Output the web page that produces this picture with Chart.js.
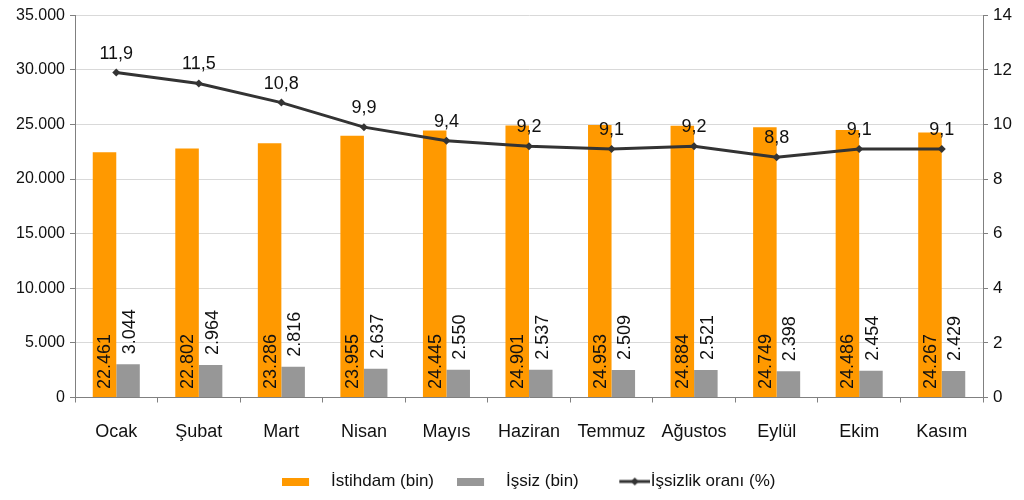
<!DOCTYPE html>
<html>
<head>
<meta charset="utf-8">
<script src="https://cdn.jsdelivr.net/npm/chart.js@4/dist/chart.umd.min.js"></script>
<style>
html,body{margin:0;padding:0;background:#fff;}
#wrap{width:1024px;height:500px;position:relative;}
</style>
</head>
<body>
<div id="wrap"><canvas id="c" width="1024" height="500"></canvas></div>
<script>
const categories = ["Ocak","Şubat","Mart","Nisan","Mayıs","Haziran","Temmuz","Ağustos","Eylül","Ekim","Kasım"];
const istihdam = [22461,22802,23286,23955,24445,24901,24953,24884,24749,24486,24267];
const issiz = [3044,2964,2816,2637,2550,2537,2509,2521,2398,2454,2429];
const oran = [11.9,11.5,10.8,9.9,9.4,9.2,9.1,9.2,8.8,9.1,9.1];
const seriesNames = ["İstihdam (bin)","İşsiz (bin)","İşsizlik oranı (%)"];

const ORANGE = "#FF9900", GRAY = "#979797", LINE = "#333333";
const FONT = "'Liberation Sans', Arial, sans-serif";

function fmtThousand(v){
  const s = Math.round(v).toString();
  return s.replace(/\B(?=(\d{3})+(?!\d))/g, ".");
}
function fmtDec(v){ return v.toFixed(1).replace(".", ","); }

function legendIcon(kind){
  const c = document.createElement("canvas");
  if (kind === "line") {
    c.width = 56; c.height = 10;
    const x = c.getContext("2d");
    x.strokeStyle = LINE; x.lineWidth = 3;
    x.beginPath(); x.moveTo(25,5); x.lineTo(56,5); x.stroke();
    x.fillStyle = LINE; x.beginPath();
    x.moveTo(40.5,1); x.lineTo(44.5,5); x.lineTo(40.5,9); x.lineTo(36.5,5); x.closePath(); x.fill();
  } else {
    c.width = 41; c.height = 8;
    const x = c.getContext("2d");
    x.fillStyle = kind; x.fillRect(0,0,27,8);
  }
  return c;
}

const labelPlugin = {
  id: "valueLabels",
  afterDatasetsDraw(chart){
    const ctx = chart.ctx;
    ctx.save();
    ctx.fillStyle = "#111";
    ctx.font = "18px " + FONT;
    [0,1].forEach(di => {
      const meta = chart.getDatasetMeta(di);
      const vals = chart.data.datasets[di].data;
      meta.data.forEach((bar, i) => {
        ctx.save();
        const startY = di === 0 ? bar.base - 8 : bar.y - 10;
        ctx.translate(bar.x + (di === 0 ? 1 : 2), startY);
        ctx.rotate(-Math.PI/2);
        ctx.textAlign = "left";
        ctx.textBaseline = "middle";
        ctx.fillText(fmtThousand(vals[i]), 0, 0);
        ctx.restore();
      });
    });
    const lm = chart.getDatasetMeta(2);
    const lv = chart.data.datasets[2].data;
    ctx.font = "18px " + FONT;
    ctx.textAlign = "center";
    ctx.textBaseline = "alphabetic";
    lm.data.forEach((pt, i) => {
      ctx.fillText(fmtDec(lv[i]), pt.x, pt.y - 14);
    });
    ctx.restore();
  }
};

new Chart(document.getElementById("c"), {
  data: {
    labels: categories,
    datasets: [
      { type: "bar", label: seriesNames[0], data: istihdam, backgroundColor: ORANGE,
        yAxisID: "y", order: 1, categoryPercentage: 0.57, barPercentage: 1.0 },
      { type: "bar", label: seriesNames[1], data: issiz, backgroundColor: GRAY,
        yAxisID: "y", order: 2, categoryPercentage: 0.57, barPercentage: 1.0 },
      { type: "line", label: seriesNames[2], data: oran, yAxisID: "y1", order: 0,
        borderColor: LINE, backgroundColor: LINE, borderWidth: 3, tension: 0,
        pointStyle: "rectRot", pointRadius: 4, pointHoverRadius: 4,
        pointBackgroundColor: LINE, pointBorderColor: LINE, pointBorderWidth: 0 }
    ]
  },
  options: {
    responsive: false,
    animation: false,
    devicePixelRatio: 1,
    layout: { padding: { top: 4, left: 0, right: 0, bottom: 0 } },
    plugins: {
      tooltip: { enabled: false },
      legend: {
        position: "bottom",
        fullSize: false,
        labels: {
          font: { family: FONT, size: 17 },
          color: "#111",
          usePointStyle: true,
          pointStyleWidth: 40,
          padding: 23.5,
          generateLabels(chart){
            const icons = [legendIcon(ORANGE), legendIcon(GRAY), legendIcon("line")];
            return seriesNames.map((n, i) => ({
              text: n, pointStyle: icons[i], datasetIndex: i, hidden: false,
              fillStyle: "transparent", strokeStyle: "transparent", lineWidth: 0, fontColor: "#111"
            }));
          }
        }
      }
    },
    scales: {
      x: {
        offset: true,
        grid: { offset: true, drawOnChartArea: false, drawTicks: true, tickLength: 5, tickColor: "#808080" },
        border: { color: "#808080", width: 1 },
        ticks: { font: { family: FONT, size: 18 }, color: "#111", padding: 19 },
        afterFit(s){ s.height = 52; }
      },
      y: {
        position: "left",
        min: 0, max: 35000,
        ticks: { stepSize: 5000, font: { family: FONT, size: 16 }, color: "#111", padding: 5,
          callback: v => fmtThousand(v) },
        grid: { color: "#d9d9d9", tickColor: "#808080", tickLength: 5 },
        border: { color: "#808080", width: 1 },
        afterFit(s){ s.width = 75; }
      },
      y1: {
        position: "right",
        min: 0, max: 14,
        ticks: { stepSize: 2, font: { family: FONT, size: 17 }, color: "#111", padding: 5 },
        grid: { drawOnChartArea: false, tickColor: "#808080", tickLength: 5 },
        border: { color: "#808080", width: 1 },
        afterFit(s){ s.width = 41; }
      }
    }
  },
  plugins: [labelPlugin]
});
</script>
</body>
</html>
